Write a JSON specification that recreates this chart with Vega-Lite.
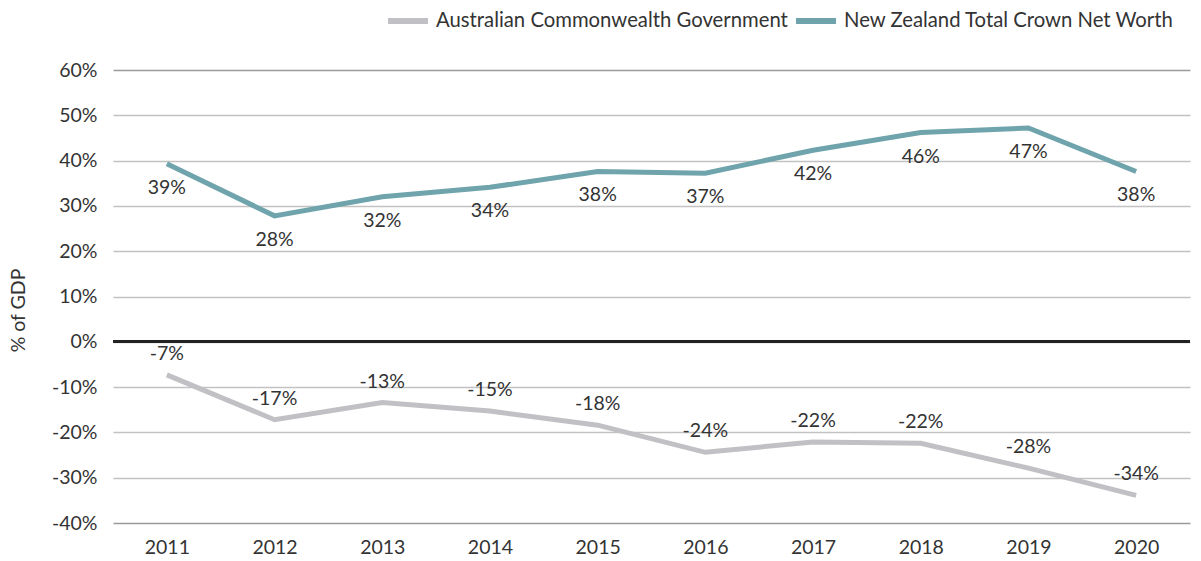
{
  "$schema": "https://vega.github.io/schema/vega-lite/v6.json",
  "width": 1077,
  "height": 453,
  "autosize": {"type": "none"},
  "padding": {"left": 113, "top": 70, "right": 11, "bottom": 38},
  "background": "white",
  "config": {
    "view": {"stroke": null},
    "font": "Lato",
    "text": {"font": "Lato", "fontSize": 19.5, "color": "#333333"}
  },
  "data": {
    "values": [
      {"year": "2011", "series": "Australian Commonwealth Government", "value": -7.3, "label": "-7%"},
      {"year": "2012", "series": "Australian Commonwealth Government", "value": -17.2, "label": "-17%"},
      {"year": "2013", "series": "Australian Commonwealth Government", "value": -13.4, "label": "-13%"},
      {"year": "2014", "series": "Australian Commonwealth Government", "value": -15.3, "label": "-15%"},
      {"year": "2015", "series": "Australian Commonwealth Government", "value": -18.4, "label": "-18%"},
      {"year": "2016", "series": "Australian Commonwealth Government", "value": -24.4, "label": "-24%"},
      {"year": "2017", "series": "Australian Commonwealth Government", "value": -22.1, "label": "-22%"},
      {"year": "2018", "series": "Australian Commonwealth Government", "value": -22.4, "label": "-22%"},
      {"year": "2019", "series": "Australian Commonwealth Government", "value": -27.9, "label": "-28%"},
      {"year": "2020", "series": "Australian Commonwealth Government", "value": -33.9, "label": "-34%"},
      {"year": "2011", "series": "New Zealand Total Crown Net Worth", "value": 39.3, "label": "39%"},
      {"year": "2012", "series": "New Zealand Total Crown Net Worth", "value": 27.8, "label": "28%"},
      {"year": "2013", "series": "New Zealand Total Crown Net Worth", "value": 32.0, "label": "32%"},
      {"year": "2014", "series": "New Zealand Total Crown Net Worth", "value": 34.1, "label": "34%"},
      {"year": "2015", "series": "New Zealand Total Crown Net Worth", "value": 37.6, "label": "38%"},
      {"year": "2016", "series": "New Zealand Total Crown Net Worth", "value": 37.2, "label": "37%"},
      {"year": "2017", "series": "New Zealand Total Crown Net Worth", "value": 42.3, "label": "42%"},
      {"year": "2018", "series": "New Zealand Total Crown Net Worth", "value": 46.2, "label": "46%"},
      {"year": "2019", "series": "New Zealand Total Crown Net Worth", "value": 47.2, "label": "47%"},
      {"year": "2020", "series": "New Zealand Total Crown Net Worth", "value": 37.6, "label": "38%"}
    ]
  },
  "encoding": {
    "x": {
      "field": "year", "type": "ordinal",
      "scale": {"type": "point", "padding": 0.5},
      "axis": {"title": null, "domain": false, "ticks": false, "labelAngle": 0, "labelPadding": 15, "labelFontSize": 19.5, "labelColor": "#333333", "labelFont": "Lato"}
    },
    "y": {
      "field": "value", "type": "quantitative",
      "scale": {"domain": [-40, 60], "nice": false, "zero": false},
      "axis": {
        "title": "% of GDP", "titleFontSize": 19.5, "titleFont": "Lato", "titleFontWeight": "normal", "titleColor": "#333333",
        "titleX": -95, "titleY": 240, "titleAngle": -90, "titleAlign": "center", "titleBaseline": "middle",
        "values": [-40, -30, -20, -10, 0, 10, 20, 30, 40, 50, 60],
        "labelExpr": "datum.value + '%'",
        "labelFontSize": 19.5, "labelFont": "Lato", "labelColor": "#333333", "labelPadding": 16,
        "domain": false, "ticks": false,
        "grid": true, "gridWidth": 1.5,
        "gridColor": {"condition": {"test": "datum.value === 60 || datum.value === -40", "value": "#9a9a9a"}, "value": "#c2c2c2"}
      }
    }
  },
  "layer": [
    {
      "mark": {"type": "rule", "color": "#222222", "strokeWidth": 2.5},
      "encoding": {"y": {"datum": 0}, "x": null}
    },
    {
      "mark": {"type": "line", "strokeWidth": 5},
      "encoding": {
        "color": {
          "field": "series", "type": "nominal",
          "scale": {"domain": ["Australian Commonwealth Government", "New Zealand Total Crown Net Worth"], "range": ["#c1c1c5", "#6fa4ac"]},
          "legend": {
            "title": null, "orient": "none", "direction": "horizontal", "legendX": 272, "legendY": -72,
            "symbolType": "stroke", "symbolSize": 1600, "symbolStrokeWidth": 6, "labelLimit": 600,
            "labelFontSize": 20.3, "labelFont": "Lato", "labelColor": "#333333", "labelOffset": 5, "columnPadding": -4
          }
        }
      }
    },
    {
      "transform": [{"filter": "datum.series === 'New Zealand Total Crown Net Worth'"}],
      "mark": {"type": "text", "dy": 24, "baseline": "middle"},
      "encoding": {"text": {"field": "label"}}
    },
    {
      "transform": [{"filter": "datum.series === 'Australian Commonwealth Government'"}],
      "mark": {"type": "text", "dy": -21, "baseline": "middle"},
      "encoding": {"text": {"field": "label"}}
    }
  ]
}
